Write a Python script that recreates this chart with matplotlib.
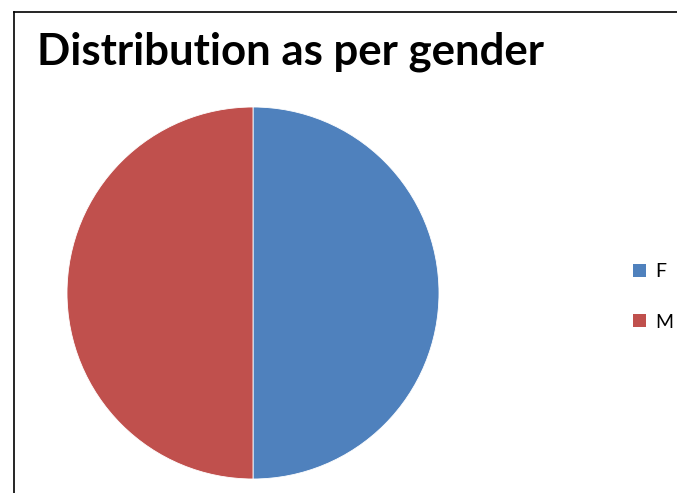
import matplotlib.pyplot as plt
from matplotlib.lines import Line2D
from matplotlib.patches import Patch

# data
labels = ['F', 'M']
counts = [50, 50]
colors = ['#4F81BD', '#C0504D']

W, H = 677, 493
fig = plt.figure(figsize=(W / 100, H / 100), dpi=100)
fig.patch.set_facecolor('white')

# pie placed in pixel box: center (253, 293), radius 186
cx, cy, r = 253, 293, 186
ax = fig.add_axes([(cx - r) / W, (H - cy - r) / H, 2 * r / W, 2 * r / H])
ax.pie(counts, colors=colors, startangle=90, counterclock=False,
       wedgeprops=dict(edgecolor='white', linewidth=0.6))
ax.set_xlim(-1, 1)
ax.set_ylim(-1, 1)
ax.set_aspect('equal')
ax.axis('off')

# chart frame (only left and top edges visible)
fig.add_artist(Line2D([13.5 / W, 13.5 / W], [0, 1 - 12 / H], transform=fig.transFigure,
                      color='black', linewidth=1.2))
fig.add_artist(Line2D([13.5 / W, 1], [1 - 12 / H, 1 - 12 / H], transform=fig.transFigure,
                      color='black', linewidth=1.2))

fig.text(37 / W, 1 - 64 / H, 'Distribution as per gender', fontsize=31.5,
         fontweight='bold', family=['Lato', 'DejaVu Sans'], color='black',
         va='baseline', ha='left')

handles = [Patch(facecolor=c, edgecolor='none', label=l) for c, l in zip(colors, labels)]
fig.legend(handles=handles, loc='center left', bbox_to_anchor=(633 / W, 1 - 297 / H),
           frameon=False, handlelength=0.65, handleheight=0.65, borderpad=0,
           handletextpad=0.5, labelspacing=1.7, borderaxespad=0,
           prop={'family': ['Lato', 'DejaVu Sans'], 'size': 14})

fig.savefig('out.png', dpi=100)
